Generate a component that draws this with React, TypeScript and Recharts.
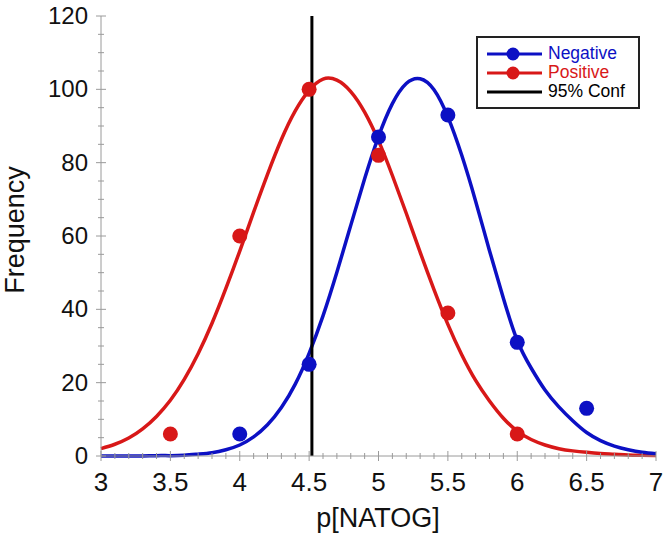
import { ComposedChart, Line, Scatter, XAxis, YAxis, ReferenceLine, Legend } from 'recharts'

// fitted curves at 0.1 steps
const curveX = [
  3.0, 3.1, 3.2, 3.3, 3.4, 3.5, 3.6, 3.7, 3.8, 3.9, 4.0, 4.1, 4.2, 4.3, 4.4, 4.5, 4.6, 4.7, 4.8, 4.9, 5.0,
  5.1, 5.2, 5.3, 5.4, 5.5, 5.6, 5.7, 5.8, 5.9, 6.0, 6.1, 6.2, 6.3, 6.4, 6.5, 6.6, 6.7, 6.8, 6.9, 7.0,
]
const negativeCurve = [
  0, 0, 0, 0, 0.1, 0.1, 0.2, 0.5, 0.9, 1.7, 3.0, 5.2, 8.5, 13.2, 19.6, 28.0, 38.2, 50.1, 62.9, 75.6, 87.1,
  96.1, 101.6, 102.9, 99.9, 92.5, 82.0, 69.5, 56.0, 43.0, 31.5, 24.0, 18.0, 13.4, 9.6, 6.4, 4.2, 2.7, 1.7, 1.0, 0.6,
]
const positiveCurve = [
  2.0, 3.2, 4.9, 7.4, 10.8, 15.2, 20.9, 27.9, 36.2, 45.7, 55.9, 66.5, 76.8, 86.3, 94.1, 99.7, 102.8, 102.5, 99.4, 93.8, 86.0,
  76.5, 66.2, 55.6, 45.4, 35.9, 27.6, 20.6, 15.0, 10.3, 6.8, 4.5, 3.0, 2.0, 1.4, 1.0, 0.7, 0.5, 0.3, 0.2, 0.1,
]

// measured points
const negativeX = [4, 4.5, 5, 5.5, 6, 6.5]
const negativeY = [6, 25, 87, 93, 31, 13]
const positiveX = [3.5, 4, 4.5, 5, 5.5, 6]
const positiveY = [6, 60, 100, 82, 39, 6]

const confX = 4.52

const xMajor = [3, 3.5, 4, 4.5, 5, 5.5, 6, 6.5, 7]
const yMajor = [0, 20, 40, 60, 80, 100, 120]
const legendLabels = ['Negative', 'Positive', '95% Conf']

const xTicks = Array.from({ length: 41 }, (_, i) => Math.round((3 + i * 0.1) * 10) / 10)
const yTicks = Array.from({ length: 25 }, (_, i) => i * 5)

const BLUE = '#0c10c4'
const RED = '#d81818'
const AXIS = '#9a9a9a'
const FONT = '"Liberation Sans", Arial, sans-serif'

const negLine = curveX.map((x, i) => ({ x, y: negativeCurve[i] }))
const posLine = curveX.map((x, i) => ({ x, y: positiveCurve[i] }))
const negPts = negativeX.map((x, i) => ({ x, y: negativeY[i] }))
const posPts = positiveX.map((x, i) => ({ x, y: positiveY[i] }))

const isMajorX = (v: number) => xMajor.some((m) => Math.abs(m - v) < 1e-6)
const isMajorY = (v: number) => yMajor.includes(v)

function BottomTick({ x, y, payload }: any) {
  const major = isMajorX(payload.value)
  return (
    <g>
      <line x1={x} x2={x} y1={major ? y - 5 : y - 3} y2={major ? y + 5 : y + 3} stroke={AXIS} />
      {major && (
        <text x={x} y={y + 35} textAnchor="middle" fontSize={26} fill="#111" fontFamily={FONT}>
          {String(payload.value)}
        </text>
      )}
    </g>
  )
}

function TopTick({ x, y, payload }: any) {
  const major = isMajorX(payload.value)
  return <line x1={x} x2={x} y1={major ? y - 5 : y - 3} y2={major ? y + 5 : y + 3} stroke={AXIS} />
}

function LeftTick({ x, y, payload }: any) {
  const major = isMajorY(payload.value)
  return (
    <g>
      <line x1={major ? x - 5 : x - 3} x2={major ? x + 5 : x + 3} y1={y} y2={y} stroke={AXIS} />
      {major && (
        <text x={x - 13} y={y + 8} textAnchor="end" fontSize={24} fill="#111" fontFamily={FONT}>
          {payload.value}
        </text>
      )}
    </g>
  )
}

function RightTick({ x, y, payload }: any) {
  const major = isMajorY(payload.value)
  return <line x1={major ? x - 5 : x - 3} x2={major ? x + 5 : x + 3} y1={y} y2={y} stroke={AXIS} />
}

const XTitle = () => (
  <text x={378} y={527} textAnchor="middle" fontSize={27} fill="#111" fontFamily={FONT}>
    p[NATOG]
  </text>
)

const YTitle = () => (
  <text x={24} y={230} transform="rotate(-90 24 230)" textAnchor="middle" fontSize={27} fill="#111" fontFamily={FONT}>
    Frequency
  </text>
)

const legendColors = [BLUE, RED, '#000']

function LegendBox() {
  return (
    <div
      style={{
        border: '2px solid #222',
        background: '#fff',
        padding: '6px 0 6px 9px',
        width: 164,
        boxSizing: 'border-box',
        fontFamily: FONT,
      }}
    >
      {legendLabels.map((label, i) => (
        <div key={label} style={{ display: 'flex', alignItems: 'center', height: 19 }}>
          <svg width={56} height={18} style={{ display: 'block' }}>
            <line x1={0} x2={55} y1={9} y2={9} stroke={legendColors[i]} strokeWidth={3} />
            {i < 2 && <circle cx={26} cy={9} r={6.5} fill={legendColors[i]} />}
          </svg>
          <span
            style={{
              display: 'block',
              marginLeft: 5,
              fontSize: 17.5,
              lineHeight: '19px',
              height: 19,
              color: legendColors[i],
            }}
          >
            {label}
          </span>
        </div>
      ))}
    </div>
  )
}

export default function App() {
  return (
    <div style={{ position: 'absolute', left: 0, top: 0, width: 665, height: 537, background: '#fff' }}>
      <ComposedChart
        width={665}
        height={537}
        margin={{ top: 16, right: 9, bottom: 0, left: 0 }}
        style={{ fontFamily: FONT }}
      >
        <XAxis
          dataKey="x"
          type="number"
          domain={[3, 7]}
          ticks={xTicks}
          interval={0}
          height={81}
          tickSize={0}
          tickMargin={0}
          tickLine={false}
          axisLine={{ stroke: AXIS }}
          tick={<BottomTick />}
          label={<XTitle />}
        />
        <XAxis
          xAxisId="top"
          orientation="top"
          dataKey="x"
          type="number"
          domain={[3, 7]}
          ticks={xTicks}
          interval={0}
          height={0}
          tickSize={0}
          tickMargin={0}
          tickLine={false}
          axisLine={{ stroke: AXIS }}
          tick={<TopTick />}
        />
        <YAxis
          type="number"
          domain={[0, 120]}
          ticks={yTicks}
          interval={0}
          width={101}
          tickSize={0}
          tickMargin={0}
          tickLine={false}
          axisLine={{ stroke: AXIS }}
          tick={<LeftTick />}
          label={<YTitle />}
        />
        <YAxis
          yAxisId="right"
          orientation="right"
          type="number"
          domain={[0, 120]}
          ticks={yTicks}
          interval={0}
          width={0}
          tickSize={0}
          tickMargin={0}
          tickLine={false}
          axisLine={{ stroke: AXIS }}
          tick={<RightTick />}
        />
        <Line data={posLine} dataKey="y" type="natural" stroke={RED} strokeWidth={3.5} dot={false} activeDot={false} isAnimationActive={false} />
        <Line data={negLine} dataKey="y" type="natural" stroke={BLUE} strokeWidth={3.5} dot={false} activeDot={false} isAnimationActive={false} />
        <ReferenceLine x={confX} stroke="#000" strokeWidth={3} />
        <Scatter
          data={posPts}
          dataKey="y"
          isAnimationActive={false}
          shape={(p: any) => <circle cx={p.cx} cy={p.cy} r={7.5} fill={RED} />}
        />
        <Scatter
          data={negPts}
          dataKey="y"
          isAnimationActive={false}
          shape={(p: any) => <circle cx={p.cx} cy={p.cy} r={7.5} fill={BLUE} />}
        />
        <Legend
          layout="vertical"
          align="center"
          verticalAlign="middle"
          content={<LegendBox />}
          wrapperStyle={{ left: 476, top: 36, width: 164 }}
        />
      </ComposedChart>
    </div>
  )
}
